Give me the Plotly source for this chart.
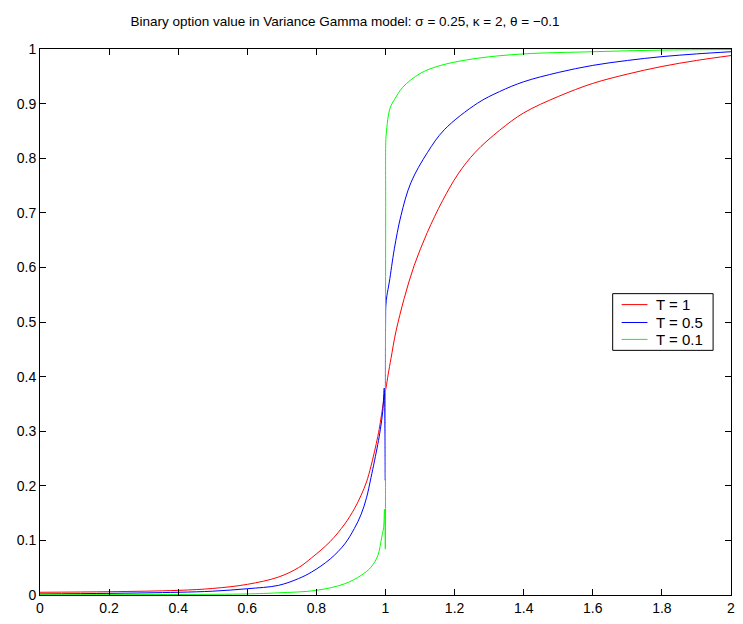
import plotly.graph_objects as go

# T = 1 (red)
x_red = [0.0, 0.2, 0.4, 0.5, 0.6, 0.69, 0.748, 0.786, 0.84, 0.882, 0.91, 0.9296, 0.945, 0.958,
         0.9776, 0.985, 0.992, 0.997, 1.0014, 1.008, 1.016, 1.03, 1.054, 1.083, 1.121, 1.165,
         1.21, 1.26, 1.33, 1.4, 1.5, 1.6, 1.7, 1.8, 1.9, 2.0]
y_red = [0.005, 0.006, 0.0085, 0.012, 0.0195, 0.0328, 0.050, 0.068, 0.098, 0.13, 0.158, 0.183, 0.207, 0.236,
         0.29, 0.316, 0.345, 0.365, 0.379, 0.405, 0.4335, 0.482, 0.543, 0.6035, 0.664, 0.722,
         0.771, 0.811, 0.851, 0.883, 0.913, 0.937, 0.954, 0.968, 0.979, 0.988]

# T = 0.5 (blue)
x_blue = [0.0, 0.2, 0.4, 0.5, 0.6, 0.69, 0.748, 0.786, 0.84, 0.882, 0.91, 0.9296, 0.945, 0.958,
          0.9776, 0.985, 0.992, 0.9963, 0.9985, 0.9995, 1.0002, 1.001, 1.004, 1.011, 1.0256,
          1.0446, 1.0734, 1.121, 1.17, 1.266, 1.33, 1.4, 1.5, 1.6, 1.7, 1.8, 1.9, 2.0]
y_blue = [0.002, 0.003, 0.005, 0.007, 0.0115, 0.0176, 0.03, 0.042, 0.066, 0.0935, 0.122, 0.148, 0.178, 0.215,
          0.2756, 0.303, 0.336, 0.379, 0.30, 0.21, 0.50, 0.53, 0.548, 0.573, 0.634,
          0.6945, 0.755, 0.81, 0.852, 0.9006, 0.922, 0.94, 0.957, 0.97, 0.979, 0.986, 0.991, 0.995]

# T = 0.1 (green)
x_green = [0.0, 0.4, 0.6, 0.69, 0.8, 0.882, 0.9296, 0.958, 0.9776, 0.989, 0.9946, 0.997, 0.9985,
           0.9995, 1.0, 1.0005, 1.001, 1.003, 1.008, 1.015, 1.0256, 1.05, 1.1, 1.16, 1.266,
           1.4, 1.6, 1.8, 2.0]
y_green = [0.0005, 0.001, 0.002, 0.004, 0.0085, 0.0206, 0.036, 0.051, 0.072, 0.1056, 0.124, 0.157, 0.13,
           0.084, 0.45, 0.70, 0.834, 0.85, 0.877, 0.895, 0.907, 0.93, 0.955, 0.97, 0.983,
           0.991, 0.995, 0.998, 0.999]

series = [("T = 1", x_red, y_red, "#ff0000"),
          ("T = 0.5", x_blue, y_blue, "#0000ff"),
          ("T = 0.1", x_green, y_green, "#00ff00")]

x_ticks = [0, 0.2, 0.4, 0.6, 0.8, 1, 1.2, 1.4, 1.6, 1.8, 2]
x_ticklabels = ["0", "0.2", "0.4", "0.6", "0.8", "1", "1.2", "1.4", "1.6", "1.8", "2"]
y_ticks = [0, 0.1, 0.2, 0.3, 0.4, 0.5, 0.6, 0.7, 0.8, 0.9, 1]
y_ticklabels = ["0", "0.1", "0.2", "0.3", "0.4", "0.5", "0.6", "0.7", "0.8", "0.9", "1"]

# page body has an 8px margin; figure is sized/placed to compensate
OFF = 8
W, H = 735, 616
ML, MR, MT, MB = 40 - OFF, 8, 49 - OFF, 26
PL, PR, PT, PB = 40, 735, 49, 598  # plot area in window pixels


def px2paper_x(px):
    return (px - PL) / (PR - PL)


def px2paper_y(py):
    return (PB - py) / (PB - PT)


font_family = "Liberation Sans, Arial, Helvetica, sans-serif"

fig = go.Figure()
for name, xs, ys, col in series:
    fig.add_trace(go.Scatter(x=xs, y=ys, mode="lines", name=name, showlegend=False,
                             line=dict(color=col, width=1, shape="spline", smoothing=1.0)))

# legend drawn as box + sample lines + text
shapes = [dict(type="rect", xref="paper", yref="paper",
               x0=px2paper_x(616), x1=px2paper_x(717),
               y0=px2paper_y(352), y1=px2paper_y(295),
               line=dict(color="black", width=1), fillcolor="white", layer="above")]
annotations = []
legend_rows = [306, 324, 341]
for (name, xs, ys, col), row in zip(series, legend_rows):
    shapes.append(dict(type="line", xref="paper", yref="paper",
                       x0=px2paper_x(625), x1=px2paper_x(651),
                       y0=px2paper_y(row), y1=px2paper_y(row),
                       line=dict(color=col, width=1), layer="above"))
    annotations.append(dict(xref="paper", yref="paper", x=px2paper_x(658), y=px2paper_y(row),
                            xanchor="left", yanchor="middle", text=name, showarrow=False,
                            font=dict(family=font_family, size=15, color="black")))

axis_common = dict(showline=True, linecolor="black", linewidth=1, mirror="ticks",
                   ticks="inside", ticklen=6, tickcolor="black", tickwidth=1,
                   showgrid=False, zeroline=False,
                   tickfont=dict(family=font_family, size=14, color="black"))

fig.update_layout(
    width=W, height=H,
    margin=dict(l=ML, r=MR, t=MT, b=MB),
    paper_bgcolor="white", plot_bgcolor="white",
    title=dict(text="Binary option value in Variance Gamma model: σ = 0.25, κ = 2, θ = −0.1",
               x=(345 - OFF) / W, xanchor="center", xref="container",
               y=1 - (21 - OFF) / H, yanchor="middle", yref="container",
               font=dict(family=font_family, size=13.5, color="black")),
    xaxis=dict(range=[0, 2], tickvals=x_ticks, ticktext=x_ticklabels, **axis_common),
    yaxis=dict(range=[0, 1], tickvals=y_ticks, ticktext=y_ticklabels, **axis_common),
    shapes=shapes,
    annotations=annotations,
    showlegend=False,
)

fig.write_html("out.html")
